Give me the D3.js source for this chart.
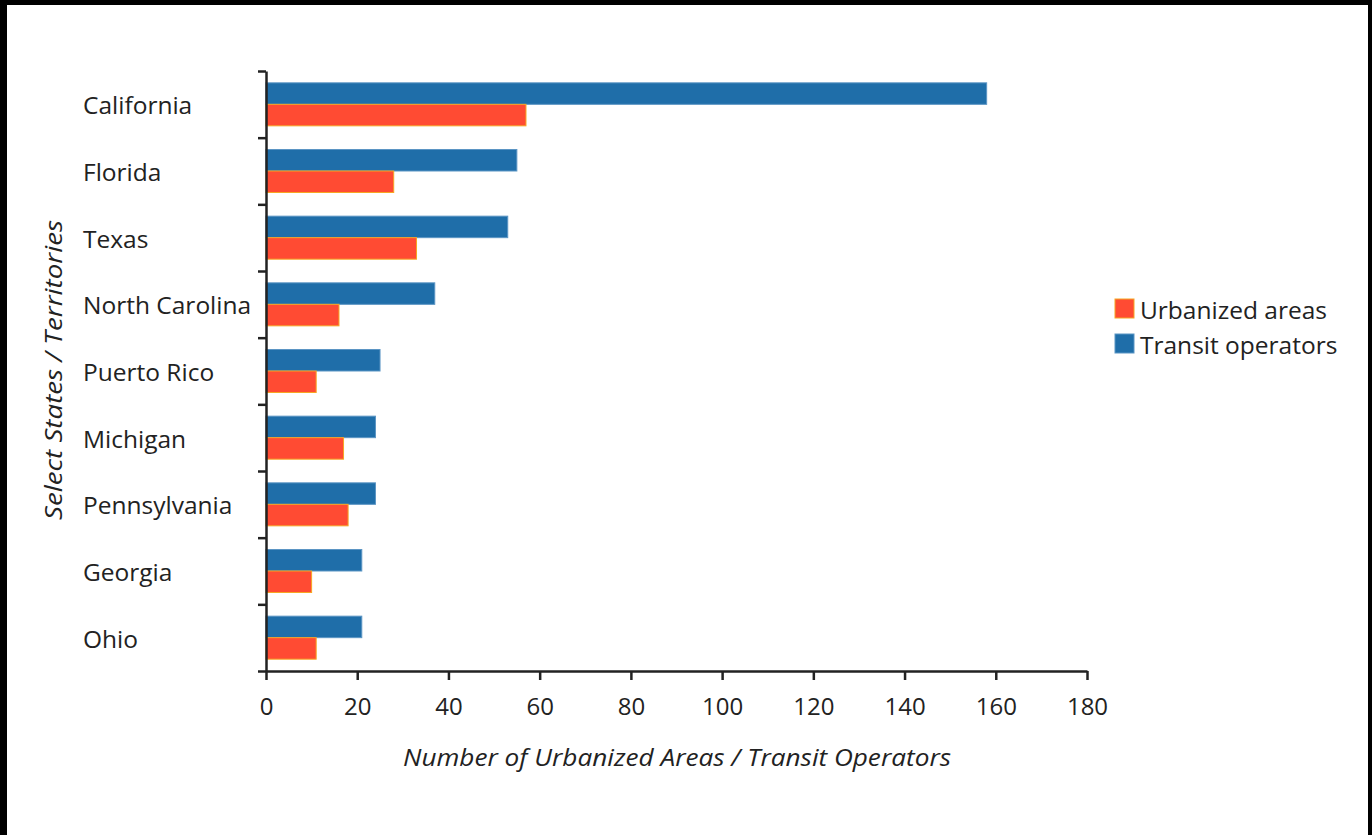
<!DOCTYPE html>
<html><head><meta charset="utf-8">
<script src="https://cdn.jsdelivr.net/npm/d3@7"></script>
<style>
html,body{margin:0;padding:0;background:#fff;}
svg{display:block;}
text{font-family:"Open Sans","Noto Sans",sans-serif;fill:#222;}
</style></head><body>
<svg id="c" width="1372" height="835"></svg>
<script>
const categories = ["California","Florida","Texas","North Carolina","Puerto Rico","Michigan","Pennsylvania","Georgia","Ohio"];
const transitOperators = [158,55,53,37,25,24,24,21,21];
const urbanizedAreas = [57,28,33,16,11,17,18,10,11];
const xTicks = [0,20,40,60,80,100,120,140,160,180];
const seriesNames = ["Urbanized areas","Transit operators"];

(function(){
const svg = d3.select("#c");
svg.append("rect").attr("x",0).attr("y",0).attr("width",1372).attr("height",835).attr("fill","#fff");
svg.append("rect").attr("x",0).attr("y",0).attr("width",1372).attr("height",5).attr("fill","#000");
svg.append("rect").attr("x",0).attr("y",0).attr("width",7).attr("height",835).attr("fill","#000");
svg.append("rect").attr("x",1368).attr("y",0).attr("width",4).attr("height",835).attr("fill","#000");

const mL=266, mR=1087, mT=71, mB=671;
const x = d3.scaleLinear().domain([0,180]).range([mL,mR]);
const y = d3.scaleBand().domain(categories).range([mT,mB]).paddingInner(0.355).paddingOuter(0.1775);
const blue="#1f6ea9", red="#ff4b33";

const g = svg.append("g");
const bw = y.bandwidth()/2;
g.selectAll(".tb").data(categories).enter().append("rect")
 .attr("x",x(0)).attr("y",d=>y(d)).attr("width",(d,i)=>x(transitOperators[i])-x(0)).attr("height",bw)
 .attr("fill",blue).attr("stroke","#5b95c4").attr("stroke-width",1);
g.selectAll(".ub").data(categories).enter().append("rect")
 .attr("x",x(0)).attr("y",d=>y(d)+bw).attr("width",(d,i)=>x(urbanizedAreas[i])-x(0)).attr("height",bw)
 .attr("fill",red).attr("stroke","#f6a623").attr("stroke-width",1);

const yb = d3.scaleLinear().domain([0,categories.length]).range([mT,mB]);
const yAxis = svg.append("g").attr("transform",`translate(${mL},0)`)
 .call(d3.axisLeft(yb).tickValues(d3.range(categories.length+1)).tickFormat("").tickSize(8).tickSizeOuter(0));
yAxis.select(".domain").attr("stroke","#222").attr("stroke-width",2.5);
yAxis.selectAll(".tick line").attr("stroke","#222").attr("stroke-width",2.5);

svg.append("g").selectAll("text").data(categories).enter().append("text")
 .attr("x",83).attr("y",d=>y(d)+y.bandwidth()/2+10).attr("font-size",24.5).text(d=>d);

const xAxis = svg.append("g").attr("transform",`translate(0,${mB})`)
 .call(d3.axisBottom(x).tickValues(xTicks).tickSize(9).tickSizeOuter(0).tickPadding(18));
xAxis.select(".domain").attr("stroke","#222").attr("stroke-width",2.5);
xAxis.selectAll(".tick line").attr("stroke","#222").attr("stroke-width",2.5);
xAxis.selectAll(".tick text").attr("font-size",24).attr("font-family","'Open Sans','Noto Sans',sans-serif").attr("fill","#222");

svg.append("text").attr("x",677).attr("y",766).attr("text-anchor","middle").attr("font-size",24)
 .attr("font-style","italic").attr("textLength",548).attr("lengthAdjust","spacingAndGlyphs")
 .text("Number of Urbanized Areas / Transit Operators");
svg.append("text").attr("transform","translate(62,370) rotate(-90)").attr("text-anchor","middle")
 .attr("font-size",24).attr("font-style","italic").attr("textLength",300).attr("lengthAdjust","spacingAndGlyphs")
 .text("Select States / Territories");

const legColors=[red,blue], legStroke=["#f6a623","#5b95c4"];
const lg = svg.append("g");
seriesNames.forEach((n,i)=>{
  lg.append("rect").attr("x",1115).attr("y",299+i*35).attr("width",19).attr("height",19)
    .attr("fill",legColors[i]).attr("stroke",legStroke[i]).attr("stroke-width",1);
  lg.append("text").attr("x",1140).attr("y",319+i*35).attr("font-size",24.5).text(n);
});
})();
</script></body></html>
